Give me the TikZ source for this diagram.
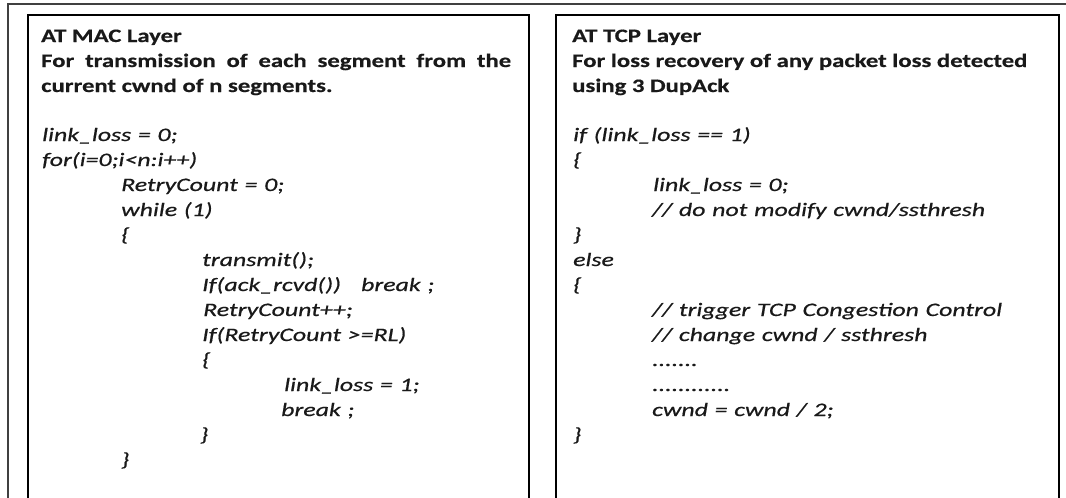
\documentclass[tikz,border=0pt]{standalone}
\usepackage{fontspec}
\setmainfont{Carlito}
\newfontfamily\headfont[FakeStretch=1.3,FakeBold=0.5]{Carlito}
\newfontfamily\codefont[FakeStretch=1.36,FakeBold=0.6,WordSpace=1.15]{Carlito}
\begin{document}
\begin{tikzpicture}[x=1pt,y=-1pt,
  every node/.style={inner sep=0pt, anchor=base west, text=black!90},
  head/.style={font=\headfont\fontsize{19}{25}\selectfont\bfseries},
  code/.style={font=\codefont\fontsize{19}{25}\selectfont\itshape},
  panel/.style={draw=black, line width=1.3pt},
  outer/.style={draw=black!75, line width=1.6pt}]
\clip (0,0) rectangle (1066,498);
% outer frame (runs past the page edges)
\draw[outer] (8,520) -- (8,4) -- (1090,4);
% the two panels
\draw[panel] (28,15) rectangle (529,530);
\draw[panel] (556,15) rectangle (1059,530);

% ---- MAC layer panel ----
\node[head] (mt) at (41,42) {AT MAC Layer};
\node[head] (md1) at (41,67) {\makebox[470pt][s]{For transmission of each segment from the}};
\node[head] (md2) at (41,92) {current cwnd of n segments.};
\node[code] (m1)  at (42,141) {link\_loss = 0;};
\node[code] (m2)  at (42,166) {for(i=0;i<n:i++)};
\node[code] (m3)  at (121,191) {RetryCount = 0;};
\node[code] (m4)  at (121,216) {while (1)};
\node[code] (m5)  at (121,241) {\{};
\node[code] (m6)  at (202,266) {transmit();};
\node[code] (m7)  at (202,291) {If(ack\_rcvd())\ \ \ break ;};
\node[code] (m8)  at (203,316) {RetryCount++;};
\node[code] (m9)  at (202,341) {If(RetryCount >=RL)};
\node[code] (m10) at (202,366) {\{};
\node[code] (m11) at (284,391) {link\_loss = 1;};
\node[code] (m12) at (281,416) {break ;};
\node[code] (m13) at (200,441) {\}};
\node[code] (m14) at (121,466) {\}};

% ---- TCP layer panel ----
\node[head] (tt) at (572,42) {AT TCP Layer};
\node[head] (td1) at (572,67) {For loss recovery of any packet loss detected};
\node[head] (td2) at (572,92) {using 3 DupAck};
\node[code] (t1)  at (573,141) {if (link\_loss == 1)};
\node[code] (t2)  at (573,166) {\{};
\node[code] (t3)  at (653,191) {link\_loss = 0;};
\node[code] (t4)  at (652,216) {// do not modify cwnd/ssthresh};
\node[code] (t5)  at (573,241) {\}};
\node[code] (t6)  at (573,266) {else};
\node[code] (t7)  at (573,291) {\{};
\node[code] (t8)  at (652,316) {// trigger TCP Congestion Control};
\node[code] (t9)  at (652,341) {// change cwnd / ssthresh};
\node[code] (t10) at (652,366) {.......};
\node[code] (t11) at (652,391) {............};
\node[code] (t12) at (652,416) {cwnd = cwnd / 2;};
\node[code] (t13) at (573,441) {\}};
\end{tikzpicture}
\end{document}
